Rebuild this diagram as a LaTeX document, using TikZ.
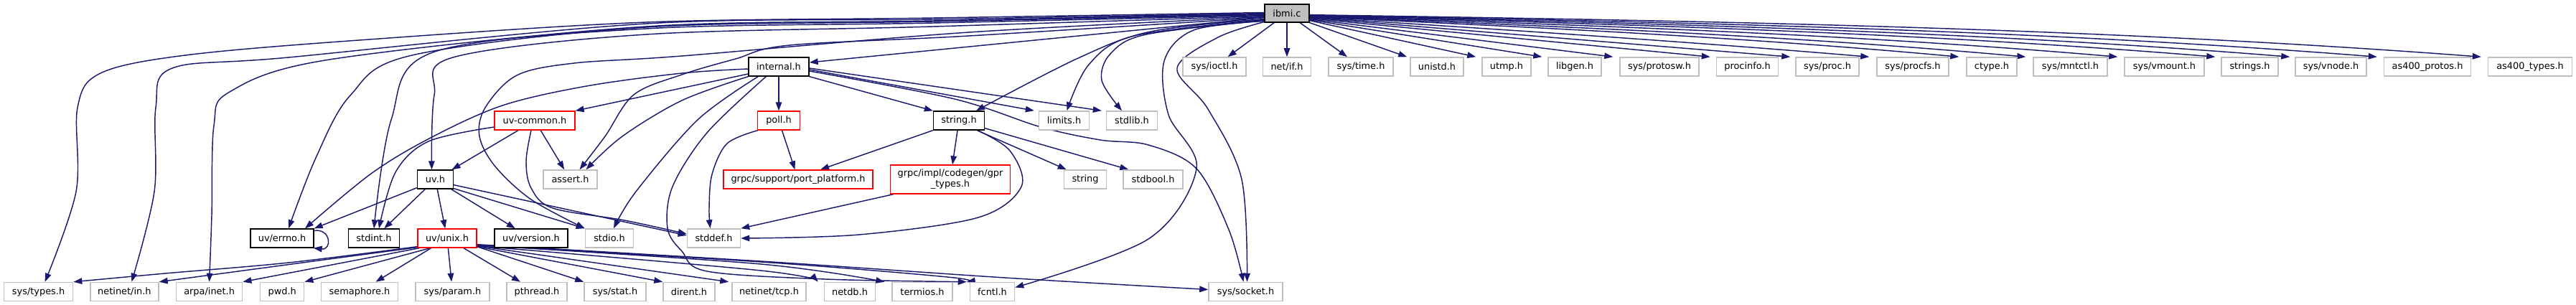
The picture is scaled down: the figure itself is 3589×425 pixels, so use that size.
\documentclass[tikz,border=0pt]{standalone}
\usepackage{fontspec}
\setmainfont{DejaVu Sans}
\usetikzlibrary{arrows.meta}
\definecolor{edgec}{HTML}{191970}
\definecolor{grayb}{HTML}{BFBFBF}
\definecolor{redb}{HTML}{FF0000}
\pgfdeclarelayer{edges}
\pgfsetlayers{edges,main}
\begin{document}
\begin{tikzpicture}[x=1pt,y=-1pt,
  >={Triangle[length=12pt,width=8.5pt]},
  every node/.style={font=\fontsize{12.9pt}{15pt}\selectfont, inner sep=0pt, minimum height=26pt, rectangle, fill=white},
  gb/.style={draw=grayb, line width=1.5pt},
  rb/.style={draw=redb, line width=1.3pt},
  bb/.style={draw=black, line width=1.3pt},
  conn/.style={color=edgec, line width=1.45pt, ->},
  sm/.style={smooth, tension=0.55}]
\useasboundingbox (0,0) rectangle (3589,425);
% level 0
\node[bb, fill=grayb, minimum width=62pt, minimum height=25pt] (ibmi) at (1793,18.5) {ibmi.c};
% level 1
\node[bb, minimum width=84pt] (internal) at (1085,93) {internal.h};
\node[gb, minimum width=88pt] (ioctl) at (1692,93) {sys/ioctl.h};
\node[gb, minimum width=67pt] (netif) at (1793,93) {net/if.h};
\node[gb, minimum width=90pt] (systime) at (1896,93) {sys/time.h};
\node[gb, minimum width=74pt] (unistd) at (2002,93) {unistd.h};
\node[gb, minimum width=68pt] (utmp) at (2099,93) {utmp.h};
\node[gb, minimum width=74pt] (libgen) at (2194,93) {libgen.h};
\node[gb, minimum width=110pt] (protosw) at (2312,93) {sys/protosw.h};
\node[gb, minimum width=86pt] (procinfo) at (2434.5,93) {procinfo.h};
\node[gb, minimum width=88pt] (sysproc) at (2546,93) {sys/proc.h};
\node[gb, minimum width=100pt] (procfs) at (2665,93) {sys/procfs.h};
\node[gb, minimum width=70pt] (ctype) at (2775,93) {ctype.h};
\node[gb, minimum width=103pt] (mntctl) at (2884.5,93) {sys/mntctl.h};
\node[gb, minimum width=111pt] (vmount) at (3015.5,93) {sys/vmount.h};
\node[gb, minimum width=79pt] (strings) at (3134.5,93) {strings.h};
\node[gb, minimum width=99pt] (vnode) at (3247.5,93) {sys/vnode.h};
\node[gb, minimum width=121pt] (protos) at (3382,93) {as400\_protos.h};
\node[gb, minimum width=117pt] (types) at (3525,93) {as400\_types.h};
% level 2
\node[rb, minimum width=112pt] (uvcommon) at (745,168) {uv-common.h};
\node[rb, minimum width=59pt] (poll) at (1085,168) {poll.h};
\node[bb, minimum width=71pt] (stringh) at (1336,168) {string.h};
\node[gb, minimum width=70pt] (limits) at (1482.5,168) {limits.h};
\node[gb, minimum width=71pt] (stdlib) at (1577,168) {stdlib.h};
% level 3
\node[bb, minimum width=50pt] (uvh) at (606.5,250) {uv.h};
\node[gb, minimum width=75pt] (assert) at (794.5,250) {assert.h};
\node[rb, minimum width=208pt] (portplat) at (1112,250) {grpc/support/port\_platform.h};
\node[rb, minimum width=167pt, minimum height=40pt, align=center] (gprtypes) at (1324,250) {grpc/impl/codegen/gpr\\\_types.h};
\node[gb, minimum width=59pt] (stringx) at (1512,250) {string};
\node[gb, minimum width=83pt] (stdbool) at (1606.5,250) {stdbool.h};
% level 4
\node[bb, minimum width=88pt] (errno) at (393,332) {uv/errno.h};
\node[bb, minimum width=71pt] (stdint) at (521,332) {stdint.h};
\node[rb, minimum width=82pt] (uvunix) at (623,332) {uv/unix.h};
\node[bb, minimum width=102pt] (uvversion) at (740,332) {uv/version.h};
\node[gb, minimum width=67pt] (stdio) at (849,332) {stdio.h};
\node[gb, minimum width=74pt] (stddef) at (994.5,332) {stddef.h};
% level 5
\node[gb, minimum width=96pt] (systypes) at (53.6,406.5) {sys/types.h};
\node[gb, minimum width=95pt] (netinetin) at (173.4,406.5) {netinet/in.h};
\node[gb, minimum width=92pt] (arpainet) at (291.6,406.5) {arpa/inet.h};
\node[gb, minimum width=61pt] (pwd) at (393.2,406.5) {pwd.h};
\node[gb, minimum width=107pt] (semaphore) at (501,406.5) {semaphore.h};
\node[gb, minimum width=103pt] (sysparam) at (630.5,406.5) {sys/param.h};
\node[gb, minimum width=84pt] (pthread) at (748,406.5) {pthread.h};
\node[gb, minimum width=86pt] (sysstat) at (857,406.5) {sys/stat.h};
\node[gb, minimum width=72pt] (dirent) at (960,406.5) {dirent.h};
\node[gb, minimum width=103pt] (netinettcp) at (1071.5,406.5) {netinet/tcp.h};
\node[gb, minimum width=71pt] (netdb) at (1184,406.5) {netdb.h};
\node[gb, minimum width=84pt] (termios) at (1285,406.5) {termios.h};
\node[gb, minimum width=62pt] (fcntl) at (1382.5,406.5) {fcntl.h};
\node[gb, minimum width=103pt] (syssocket) at (1735.5,406.5) {sys/socket.h};

\begin{pgfonlayer}{edges}
\fill[white] (0,0) rectangle (3589,425);
% ibmi.c -> top row
\draw[conn] (ibmi) -- (ioctl);
\draw[conn] (ibmi) -- (netif);
\draw[conn] (ibmi) -- (systime);
\draw[conn] (ibmi.south east) -- ([xshift=-4pt]unistd.north west);
\draw[conn] ([yshift=3pt]ibmi.south east) -- ([xshift=-8pt]utmp.north west);
\draw[conn] ([yshift=4pt]ibmi.south east) -- ([xshift=-8pt]libgen.north west);
\draw[conn] ([yshift=5pt]ibmi.south east) -- ([xshift=-9pt]protosw.north west);
\draw[conn] ([yshift=6pt]ibmi.south east) -- ([xshift=-8pt]procinfo.north west);
\draw[conn] ([yshift=7pt]ibmi.south east) -- ([xshift=-7pt]sysproc.north west);
\draw[conn] ([yshift=7.5pt]ibmi.south east) .. controls (2084.3,40.5) and (2344.2,57.4) .. ([xshift=-10pt]procfs.north west);
\draw[conn] ([yshift=8pt]ibmi.south east) .. controls (2126,37.3) and (2427.5,51.5) .. ([xshift=-10pt]ctype.north west);
\draw[conn] ([yshift=8.5pt]ibmi.south east) .. controls (2157.3,35.9) and (2490.2,49.3) .. ([xshift=-10pt]mntctl.north west);
\draw[conn] ([yshift=9pt]ibmi.south east) .. controls (2200,34.6) and (2575.5,47.1) .. ([xshift=-9pt]vmount.north west);
\draw[conn] ([yshift=9.5pt]ibmi.south east) .. controls (2245.3,33.2) and (2666.2,44.9) .. ([xshift=-8pt]strings.north west);
\draw[conn] ([yshift=10pt]ibmi.south east) .. controls (2280,31.8) and (2735.5,42.6) .. ([xshift=-7pt]vnode.north west);
\draw[conn] ([yshift=10.5pt]ibmi.south east) .. controls (2320.3,30.4) and (2816.2,40.3) .. ([xshift=-9pt]protos.north west);
\draw[conn] ([yshift=11pt]ibmi.south east) .. controls (2369,29) and (2913.5,38) .. ([xshift=-9pt]types.north west);
% ibmi.c -> left side
\draw[conn] plot[sm] coordinates {([yshift=1pt]ibmi.west) (1300,25) (900,31) (500,56) (258,77) (140,102) (108,150) (106,267) ([xshift=9pt]systypes.north)};
\draw[conn] plot[sm] coordinates {(ibmi.west) (1300,27) (900,33) (402,80) (240,95) (217,150) (215,267) ([xshift=10pt]netinetin.north)};
\draw[conn] plot[sm] coordinates {([yshift=-1pt]ibmi.west) (1300,29) (900,37) (459,83) (320,128) (298,175) (295,300) (arpainet.north)};
\draw[conn] plot[sm] coordinates {([yshift=-2pt]ibmi.west) (1300,30) (900,38) (574,77) (488,133) (440,220) ([xshift=9pt]errno.north)};
\draw[conn] plot[sm] coordinates {([yshift=-3pt]ibmi.west) (1300,32) (900,40) (603,73) (545,167) (stdint.north)};
\draw[conn] plot[sm] coordinates {([yshift=-4pt]ibmi.west) (1300,37) (900,48) (631,80) (605,133) ([xshift=-5pt]uvh.north)};
\draw[conn] plot[sm] coordinates {([yshift=-5pt]ibmi.west) (1350,45) (950,78) (800,88) (720,105) (676,150) (668,190) (690,232) (740,278) (stdio.north west)};
\draw[conn] plot[sm] coordinates {([yshift=-6pt]ibmi.west) (1350,50) (1100,63) (1025,82) (950,104) (883,132) (843,190) ([xshift=13pt]assert.north)};
\draw[conn] ([yshift=-6pt]ibmi.west) -- ([yshift=6pt]internal.east);
\draw[conn] plot[sm] coordinates {([yshift=-8pt]ibmi.west) (1603,44) (1500,82) ([xshift=24pt]stringh.north)};
\draw[conn] plot[sm] coordinates {([yshift=-9pt]ibmi.west) (1580,50) (1517,90) ([xshift=4pt]limits.north)};
\draw[conn] plot[sm] coordinates {([yshift=-10pt]ibmi.west) (1597,48) (1547,75) (1535,112) ([xshift=-14pt]stdlib.north)};
\draw[conn] plot[sm] coordinates {([yshift=-11pt]ibmi.west) (1663,42) (1622,85) (1628,160) (1667,235) (1600,333) ([yshift=6pt]fcntl.east)};
\draw[conn] plot[sm] coordinates {([yshift=-12pt]ibmi.west) (1697,52) (1640,95) (1683,152) (1730,250) ([xshift=2pt]syssocket.north)};
% internal.h
\draw[conn] plot[sm] coordinates {([yshift=-3pt]internal.west) (950,102) (817,120) (700,147) (600,192) (517,242) ([xshift=32pt]errno.north)};
\draw[conn] ([yshift=-10pt]internal.west) -- (uvcommon.north east);
\draw[conn] plot[sm] coordinates {(internal.south west) (950,140) (867,190) ([xshift=22pt]assert.north)};
\draw[conn] plot[sm] coordinates {([xshift=14pt]internal.south west) (972,167) (886,267) ([xshift=6pt]stdio.north)};
\draw[conn] plot[sm] coordinates {([xshift=25pt]internal.south west) (985,185) (937,260) (930,318) (950,350) (985,378) (1150,389) ([xshift=-4pt]fcntl.north west)};
\draw[conn] (internal) -- (poll);
\draw[conn] (internal.south east) -- (stringh.north west);
\draw[conn] ([yshift=-4pt]internal.east) -- ([xshift=-6pt]limits.north west);
\draw[conn] ([yshift=-2pt]internal.east) -- ([xshift=-6pt]stdlib.north west);
\draw[conn] plot[sm] coordinates {([yshift=-6pt]internal.east) (1330,138) (1450,177) (1533,195) (1600,202) (1667,235) (1712,320) ([xshift=-3pt]syssocket.north)};
% uv-common.h
\draw[conn] (uvcommon) -- (uvh);
\draw[conn] (uvcommon) -- (assert);
\draw[conn] plot[sm] coordinates {([yshift=-9pt]uvcommon.west) (597,197) (551,240) ([xshift=7pt]stdint.north)};
\draw[conn] plot[sm] coordinates {([xshift=-5pt]uvcommon.south) (733,225) (740,262) (770,290) (870,307) ([yshift=6pt]stddef.west)};
% uv.h
\draw[conn] ([yshift=2pt]uvh.south west) -- (errno.north east);
\draw[conn] (uvh) -- (stdint);
\draw[conn] (uvh) -- (uvunix);
\draw[conn] (uvh) -- (uvversion);
\draw[conn] ([yshift=1pt]uvh.south east) -- (stdio.north west);
\draw[conn] ([yshift=6pt]uvh.south east) -- ([yshift=4pt]stddef.west);
% uv/errno.h self loop
\draw[conn] ([yshift=-3pt]errno.north east) .. controls +(24,-3) and +(26,3) .. ([xshift=-1pt]errno.south east);
% uv/unix.h
\draw[conn] plot[sm] coordinates {([yshift=2pt]uvunix.south west) (402,366) (230,381) (systypes.north east)};
\draw[conn] ([yshift=1pt]uvunix.south west) -- (netinetin.north east);
\draw[conn] ([xshift=3pt]uvunix.south west) -- (arpainet.north east);
\draw[conn] ([xshift=18pt]uvunix.south west) -- (pwd.north east);
\draw[conn] (uvunix) -- (semaphore);
\draw[conn] (uvunix) -- (sysparam);
\draw[conn] (uvunix) -- (pthread);
\draw[conn] ([yshift=2pt]uvunix.south east) -- (sysstat.north west);
\draw[conn] ([yshift=2pt]uvunix.south east) -- (dirent.north west);
\draw[conn] ([yshift=3pt]uvunix.south east) -- ([xshift=-4pt]netinettcp.north west);
\draw[conn] plot[sm] coordinates {([yshift=3pt]uvunix.south east) (1060,377) ([xshift=-8pt]netdb.north west)};
\draw[conn] plot[sm] coordinates {([yshift=4pt]uvunix.south east) (1060,368) ([xshift=-10pt]termios.north west)};
\draw[conn] plot[sm] coordinates {([yshift=4pt]uvunix.south east) (1060,365) (1320,386) ([xshift=-4pt]fcntl.north west)};
\draw[conn] plot[sm] coordinates {([yshift=5pt]uvunix.south east) (1060,364) (1400,387) ([yshift=3pt]syssocket.west)};
% poll.h
\draw[conn] (poll) -- (portplat);
\draw[conn] plot[sm] coordinates {([xshift=1pt]poll.south west) (1013,200) (992,243) (988,290) ([xshift=-5pt]stddef.north)};
% string.h
\draw[conn] (stringh.south west) -- ([xshift=31pt]portplat.north);
\draw[conn] (stringh) -- (gprtypes);
\draw[conn] ([xshift=-11pt]stringh.south east) -- ([xshift=4pt]stringx.north west);
\draw[conn] ([yshift=3pt]stringh.south east) -- ([xshift=8pt]stdbool.north west);
\draw[conn] plot[sm] coordinates {([xshift=-10pt]stringh.south east) (1407,210) (1423,260) (1363,303) (1197,327) (stddef.east)};
% gpr_types.h
\draw[conn] ([xshift=5pt]gprtypes.south west) -- (stddef.north east);
\end{pgfonlayer}
\end{tikzpicture}
\end{document}
